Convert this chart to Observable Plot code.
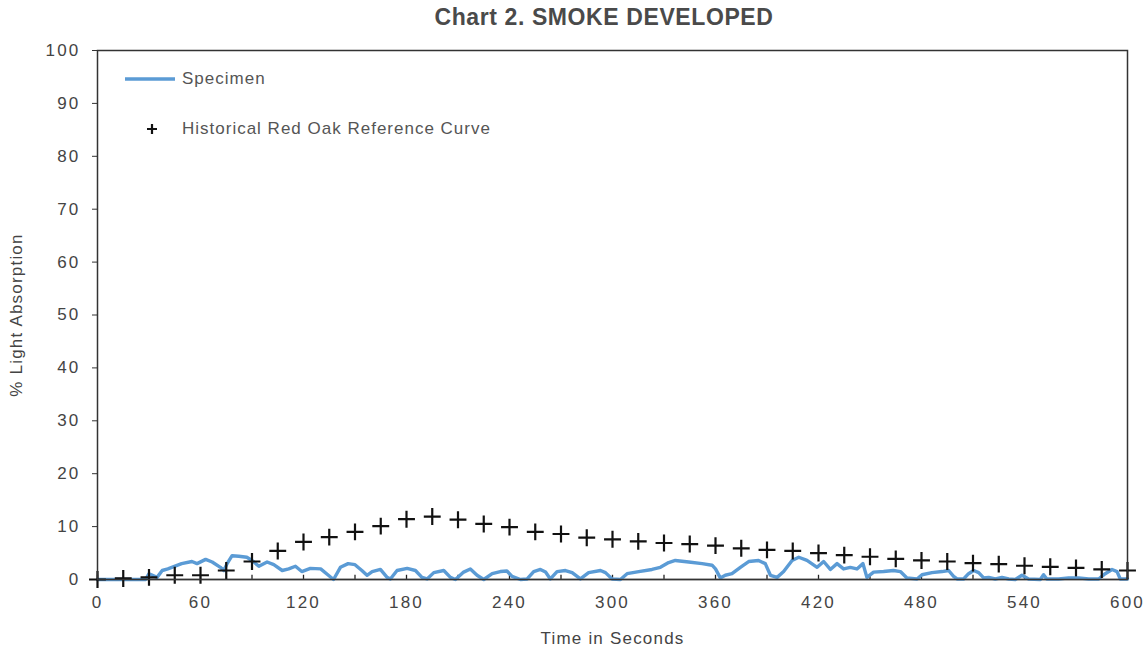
<!DOCTYPE html>
<html>
<head>
<meta charset="utf-8">
<script src="https://cdn.jsdelivr.net/npm/d3@7"></script>
<script src="https://cdn.jsdelivr.net/npm/@observablehq/plot@0.6"></script>
<style>
  html, body { margin: 0; padding: 0; background: #fff; }
  #wrap { position: relative; width: 1146px; height: 651px; font-family: "Liberation Sans", Arial, sans-serif; }
  #title { position: absolute; left: 62px; top: 4px; width: 1084px; text-align: center; font-weight: bold; font-size: 23px; letter-spacing: 0.6px; color: #4a4a4a; }
  #chart { position: absolute; left: 0; top: 0; }
  #chart svg text { letter-spacing: 1.2px; }
  #chart svg g[aria-label$="tick label"] text { letter-spacing: 2.2px; }
  .leg { position: absolute; left: 122px; font-size: 17px; letter-spacing: 1px; color: #555; display: flex; align-items: center; }
  .leg svg { margin-right: 4px; }
</style>
</head>
<body>
<div id="wrap">
  <div id="chart"></div>
  <div id="title">Chart 2. SMOKE DEVELOPED</div>
  <div class="leg" style="top:68px"><svg width="56" height="22"><line x1="3" x2="53" y1="11" y2="11" stroke="#5b9bd5" stroke-width="3.5"/></svg>Specimen</div>
  <div class="leg" style="top:118px"><svg width="56" height="22"><path d="M25,11h10M30,6v10" stroke="#111" stroke-width="2.2"/></svg>Historical Red Oak Reference Curve</div>
</div>
<script>
// Historical Red Oak reference curve (every 15 s)
const refTime = d3.range(0, 601, 15);
const refValue = [0, 0.2, 0.4, 0.8, 0.8, 1.7, 3.4, 5.4, 7.1, 8.0, 9.0, 10.1, 11.4, 11.9, 11.3, 10.5, 9.9, 9.0, 8.6, 7.9, 7.6,
  7.2, 6.9, 6.7, 6.4, 5.9, 5.6, 5.4, 5.0, 4.6, 4.3, 3.9, 3.6, 3.4, 3.1, 2.9, 2.6, 2.4, 2.2, 1.9, 1.7];

// Specimen curve
const specTime = [0, 10, 20, 28, 30, 34.7, 37.7, 41, 49, 55, 58, 63, 66.8, 71.6, 73.6, 75.5, 78.4, 82.3, 87, 90, 94, 98.8, 102.7,
  107.6, 111.4, 115.3, 119, 124, 130, 134.5, 137.5, 141.5, 146, 150, 154, 157, 160, 164.8, 168.7, 170.6, 174.5, 180.4, 185.2,
  189, 192, 195.9, 201.7, 205.6, 208.5, 213.3, 217.2, 221.1, 225, 229.9, 234.7, 238.5, 241.5, 246.4, 250.3, 254.1, 258, 261,
  263.8, 267.7, 272.6, 276.5, 281.3, 286.1, 293, 295.9, 299.8, 304.6, 308.5, 315.3, 323, 327.9, 332.7, 336.6, 344.4, 352.2,
  358, 360, 362.8, 365.7, 369.6, 374.5, 379.3, 385.1, 389, 392, 395.9, 399.7, 404.6, 408.5, 413.3, 419.2, 423, 426.9, 430.8,
  434.6, 438.5, 442.4, 445.9, 448.2, 452.1, 457.9, 463.7, 467.7, 471.5, 477.4, 480.3, 486.1, 492, 495.8, 498.7, 500.7, 504.5,
  507.4, 510.4, 513.3, 516.2, 519.1, 523, 526.9, 530.8, 534.6, 538.5, 542.4, 549.2, 551.1, 553, 559.9, 565.7, 571.5, 577.4,
  583.2, 587, 591, 593.9, 595.8, 600];
const specValue = [0, 0, 0, 0, 1.1, 0.4, 1.7, 2.0, 3.0, 3.4, 3.0, 3.8, 3.3, 2.3, 1.7, 3.0, 4.5, 4.4, 4.2, 3.6, 2.5, 3.3, 2.8,
  1.7, 2.0, 2.5, 1.5, 2.1, 2.0, 0.8, 0, 2.3, 3.0, 2.8, 1.7, 0.8, 1.5, 1.9, 0.4, 0.1, 1.7, 2.1, 1.7,
  0.4, 0.1, 1.3, 1.7, 0.4, 0, 1.4, 2.0, 0.8, 0, 1.1, 1.5, 1.6, 0.6, 0, 0.1, 1.5, 1.9, 1.4,
  0.1, 1.5, 1.7, 1.3, 0.1, 1.3, 1.7, 1.3, 0.1, 0, 1.1, 1.5, 1.9, 2.3, 3.2, 3.6, 3.3, 3.0,
  2.7, 2.0, 0.3, 0.8, 1.1, 2.3, 3.4, 3.6, 3.0, 0.8, 0.4, 1.5, 3.6, 4.2, 3.6, 2.3, 3.4, 1.9, 3.0,
  2.0, 2.3, 2.0, 3.0, 0.4, 1.4, 1.5, 1.7, 1.5, 0.3, 0.1, 0.9, 1.3, 1.5, 1.7, 0.6, 0.1, 0.1,
  1.1, 1.7, 1.3, 0.3, 0.4, 0.1, 0.4, 0.1, 0, 0.8, 0.1, 0, 0.9, 0.1, 0.1, 0.3, 0.3, 0.1,
  0.1, 1.1, 1.9, 1.5, 0.1, 0.1];

const xTickLabels = d3.range(0, 601, 60);
const xMinorTicks = d3.range(0, 601, 30);
const yTickLabels = d3.range(0, 101, 10);

const ref = refTime.map((t, i) => ({t, v: refValue[i]}));
const spec = specTime.map((t, i) => ({t, v: specValue[i]}));

const chart = Plot.plot({
  width: 1146,
  height: 651,
  marginTop: 50,
  marginLeft: 97,
  marginRight: 19,
  marginBottom: 72,
  style: {fontFamily: "Liberation Sans, Arial, sans-serif", fontSize: "17px", color: "#555", background: "transparent"},
  x: {domain: [0, 600]},
  y: {domain: [0, 100]},
  marks: [
    Plot.axisY({ticks: yTickLabels, tickSize: 5, tickPadding: 12, stroke: "#333", fill: "#444", label: "% Light Absorption", labelArrow: "none", labelAnchor: "center", labelOffset: 88, fontSize: 17}),
    Plot.axisX({ticks: xTickLabels, tickSize: 0, tickPadding: 16, fill: "#444", label: "Time in Seconds", labelArrow: "none", labelAnchor: "center", labelOffset: 64, fontSize: 17}),
    Plot.ruleX(xMinorTicks, {x: d => d, y1: 0, y2: 0.8, stroke: "#222", strokeWidth: 1.3}),
    Plot.ruleY([0], {stroke: "#666", strokeWidth: 1.5}),
    Plot.line(spec, {x: "t", y: "v", stroke: "#5b9bd5", strokeWidth: 3.4, strokeLinejoin: "round", curve: "linear"}),
    Plot.dot(ref, {x: "t", y: "v", symbol: "plus", r: 5.5, stroke: "#111", strokeWidth: 2.2}),
    Plot.frame({stroke: "#333", strokeWidth: 1.5})
  ]
});
document.getElementById("chart").appendChild(chart);
</script>
</body>
</html>
